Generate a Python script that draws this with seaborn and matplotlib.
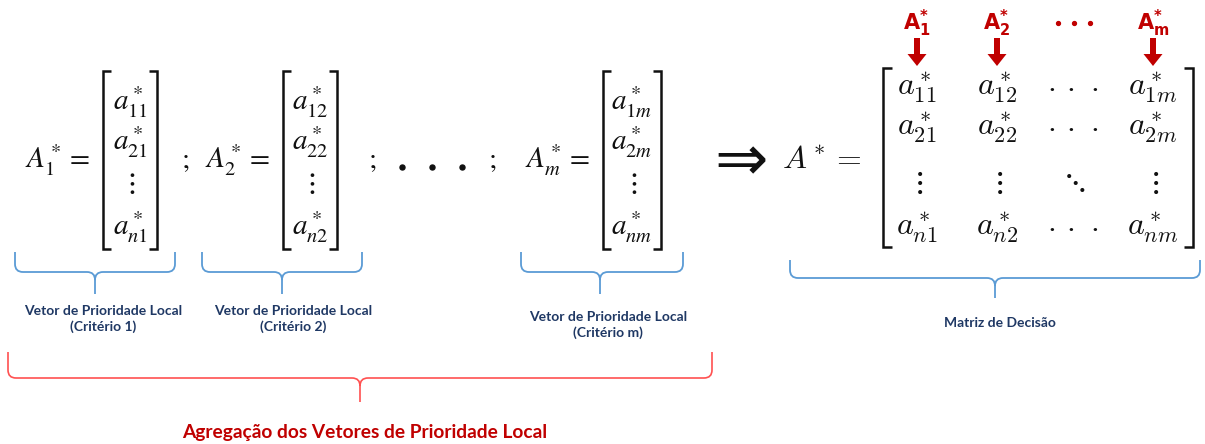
import matplotlib
matplotlib.use("Agg")
import matplotlib.pyplot as plt
from matplotlib.path import Path
from matplotlib.patches import PathPatch, FancyArrow
import seaborn as sns

# --- content of the diagram ---
vector_names = [r"A_1^*", r"A_2^*", r"A_m^*"]
vector_entries = [
    [r"a_{11}^*", r"a_{21}^*", r"\vdots", r"a_{n1}^*"],
    [r"a_{12}^*", r"a_{22}^*", r"\vdots", r"a_{n2}^*"],
    [r"a_{1m}^*", r"a_{2m}^*", r"\vdots", r"a_{nm}^*"],
]
vector_labels = [
    "Vetor de Prioridade Local\n(Critério 1)",
    "Vetor de Prioridade Local\n(Critério 2)",
    "Vetor de Prioridade Local\n(Critério m)",
]
matrix_rows = [
    [r"a_{11}^*", r"a_{12}^*", r"\cdot\,\cdot\,\cdot", r"a_{1m}^*"],
    [r"a_{21}^*", r"a_{22}^*", r"\cdot\,\cdot\,\cdot", r"a_{2m}^*"],
    [r"\vdots", r"\vdots", r"\ddots", r"\vdots"],
    [r"a_{n1}^*", r"a_{n2}^*", r"\cdot\,\cdot\,\cdot", r"a_{nm}^*"],
]
column_tags = [r"A_1^*", r"A_2^*", None, r"A_m^*"]
matrix_name = r"A^* ="
matrix_label = "Matriz de Decisão"
aggregate_label = "Agregação dos Vetores de Prioridade Local"

# --- layout (pixels, origin top-left) ---
W, H = 1205, 444
vec_cx = [130, 310, 632]
vec_left = [103, 283, 603]
vec_right = [157, 337, 661]
name_right = [90, 270, 590]
vec_rows_y = [110, 150, 183, 235]
mat_cols_x = [917, 997, 1073, 1153]
mat_rows_y = [95, 135, 182, 235]
blue_braces = [(15, 175, 95), (202, 362, 282), (521, 683, 600)]
label_x = [103, 293, 608]
label_y = [319, 319, 325]

BLUE = "#5B9BD5"
NAVY = "#1F3864"
RED = "#C00000"
INK = "#111111"

sns.set_theme(style="white")
plt.rcParams["font.family"] = ["Lato", "DejaVu Sans"]


def bracket(ax, x, y0, y1, side, tick=8, lw=1.8):
    d = tick if side == "left" else -tick
    ax.plot([x + d, x, x, x + d], [y0, y0, y1, y1], color=INK, lw=lw,
            solid_joinstyle="miter", solid_capstyle="butt")


def brace(ax, x0, x1, xt, ytop, ymid, ytip, color, lw=1.3, r=8):
    verts = [
        (x0, ytop), (x0, ymid - r), (x0, ymid), (x0 + r, ymid),
        (xt - r, ymid), (xt, ymid), (xt, ymid + r), (xt, ytip),
        (xt, ymid + r), (xt, ymid), (xt + r, ymid),
        (x1 - r, ymid), (x1, ymid), (x1, ymid - r), (x1, ytop),
    ]
    codes = [Path.MOVETO, Path.LINETO, Path.CURVE3, Path.CURVE3,
             Path.LINETO, Path.CURVE3, Path.CURVE3, Path.LINETO,
             Path.MOVETO, Path.CURVE3, Path.CURVE3,
             Path.LINETO, Path.CURVE3, Path.CURVE3, Path.LINETO]
    ax.add_patch(PathPatch(Path(verts, codes), fill=False, edgecolor=color, lw=lw))


fig = plt.figure(figsize=(W / 100, H / 100), dpi=100)
ax = fig.add_axes([0, 0, 1, 1])
ax.set_xlim(0, W)
ax.set_ylim(H, 0)
ax.axis("off")

# left: the local priority vectors
for i, name in enumerate(vector_names):
    ax.text(name_right[i], 168, f"${name} =$", ha="right", va="baseline",
            fontsize=21, math_fontfamily="stix", color=INK)
    bracket(ax, vec_left[i], 71, 249, "left")
    bracket(ax, vec_right[i], 71, 249, "right")
    for j, entry in enumerate(vector_entries[i]):
        va = "center" if "dots" in entry else "baseline"
        ax.text(vec_cx[i], vec_rows_y[j], f"${entry}$", ha="center", va=va,
                fontsize=21, math_fontfamily="stix", color=INK)
    brace(ax, *blue_braces[i], 252, 272, 294, BLUE)
    ax.text(label_x[i], label_y[i], vector_labels[i], ha="center", va="center",
            fontsize=10, fontweight="bold", color=NAVY, linespacing=1.35)

# separators
ax.text(185, 168, "$;$", ha="center", va="baseline", fontsize=21, math_fontfamily="stix", color=INK)
ax.text(372, 168, "$;$", ha="center", va="baseline", fontsize=21, math_fontfamily="stix", color=INK)
ax.text(492, 168, "$;$", ha="center", va="baseline", fontsize=21, math_fontfamily="stix", color=INK)
for x in (402, 432, 462):
    ax.plot(x, 167, "o", ms=3.6, color=INK)

# implication arrow
ax.text(734, 160, r"$\Rightarrow$", ha="center", va="center", fontsize=46,
        math_fontfamily="dejavusans", color=INK, fontweight="bold")

# decision matrix
ax.text(862, 168, f"${matrix_name}$", ha="right", va="baseline", fontsize=23,
        math_fontfamily="cm", color=INK)
bracket(ax, 883, 68, 247, "left", tick=9)
bracket(ax, 1193, 68, 247, "right", tick=9)
for j, row in enumerate(matrix_rows):
    for k, entry in enumerate(row):
        va = "center" if ("vdots" in entry or "ddots" in entry) else "baseline"
        ax.text(mat_cols_x[k], mat_rows_y[j], f"${entry}$", ha="center", va=va,
                fontsize=23, math_fontfamily="cm", color=INK)

# red column tags and arrows
for k, tag in enumerate(column_tags):
    if tag is None:
        for x in (1058, 1074, 1090):
            ax.plot(x, 23, "o", ms=2.8, color=RED)
        continue
    ax.text(mat_cols_x[k], 30, f"$\\mathbf{{{tag[0]}}}_{{\\mathbf{{{tag[2]}}}}}^{{\\mathbf{{*}}}}$",
            ha="center", va="baseline", fontsize=15, math_fontfamily="dejavusans", color=RED)
    ax.add_patch(FancyArrow(mat_cols_x[k], 38, 0, 28, width=6, head_width=19,
                            head_length=12, length_includes_head=True, color=RED, lw=0))

brace(ax, 790, 1200, 995, 260, 278, 298, BLUE)
ax.text(1000, 323, matrix_label, ha="center", va="center", fontsize=10,
        fontweight="bold", color=NAVY)

# aggregation brace
brace(ax, 8, 712, 360, 352, 378, 402, "#FF5050", lw=1.2)
ax.text(365, 432, aggregate_label, ha="center", va="center", fontsize=13.8,
        fontweight="bold", color=RED)

fig.savefig("out.png", dpi=100, facecolor="white")
